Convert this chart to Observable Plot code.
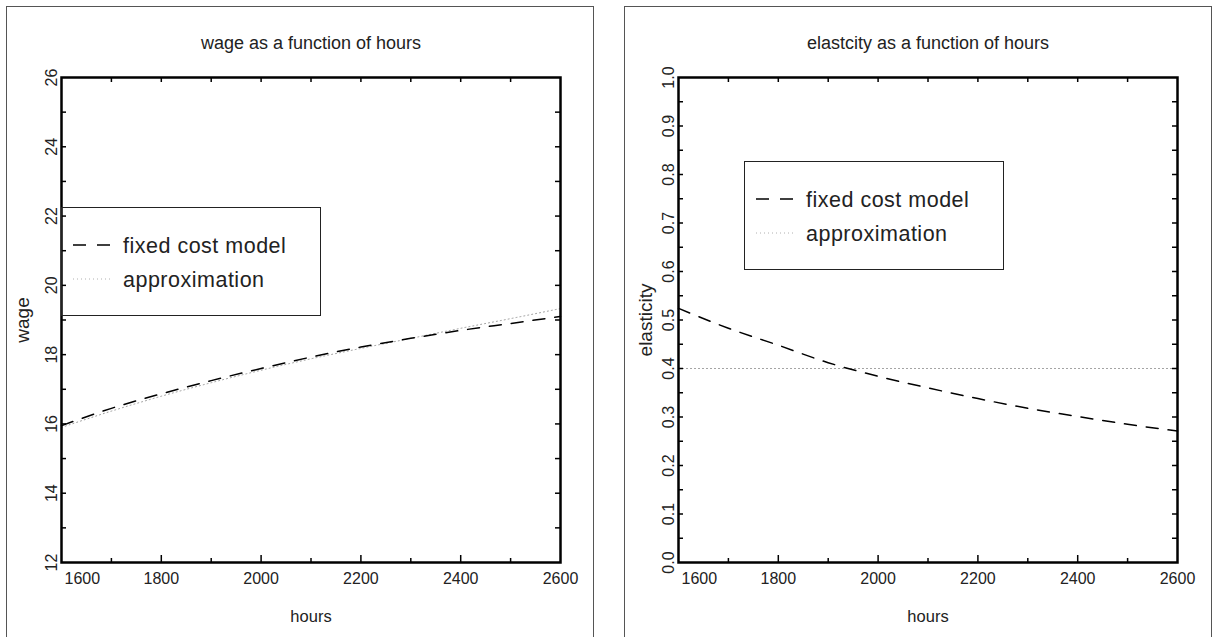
<!DOCTYPE html>
<html><head><meta charset="utf-8">
<script src="https://cdn.jsdelivr.net/npm/d3@7"></script>
<script src="https://cdn.jsdelivr.net/npm/@observablehq/plot@0.6"></script>
<style>
body{margin:0;background:#fff;width:1214px;height:637px;overflow:hidden;position:relative;font-family:"Liberation Sans",Arial,sans-serif}
.frame{position:absolute;border:1px solid #555;box-sizing:border-box}
.panel{position:absolute;top:0}
.legend{position:absolute;border:1px solid #222;box-sizing:border-box}
</style></head><body>
<script>
// ---- data ----
const hours = [1600,1700,1800,1900,2000,2100,2200,2300,2400,2500,2600];
const wageFixed  = [15.95,16.45,16.87,17.25,17.60,17.93,18.22,18.47,18.70,18.90,19.10];
const wageApprox = [15.90,16.37,16.80,17.19,17.55,17.88,18.18,18.47,18.76,19.04,19.33];
const elastFixed  = [0.524,0.483,0.448,0.412,0.384,0.360,0.338,0.318,0.301,0.285,0.271];
const elastApprox = [0.40,0.40,0.40,0.40,0.40,0.40,0.40,0.40,0.40,0.40,0.40];
const xMajorTicks = [1800,2000,2200,2400];
const xMinorTicks = [1700,1900,2100,2300,2500];
const xTickLabels = [1600,1800,2000,2200,2400,2600];
const wageTicks = [13,14,15,16,17,18,19,20,21,22,23,24,25];
const wageTickLabels = [12,14,16,18,20,22,24,26];
const elastTicks = [0.05,0.1,0.15,0.2,0.25,0.3,0.35,0.4,0.45,0.5,0.55,0.6,0.65,0.7,0.75,0.8,0.85,0.9,0.95];
const elastTickLabels = [0,0.1,0.2,0.3,0.4,0.5,0.6,0.7,0.8,0.9,1.0];
const seriesNames = ["fixed cost model","approximation"];
const titles = ["wage as a function of hours","elastcity as a function of hours"];
const yTitles = ["wage","elasticity"];
const xTitle = "hours";

const FONT = '"Liberation Sans", Arial, sans-serif';
const NARROW = '"Liberation Sans Narrow", "Arial Narrow", "Liberation Sans", Arial, sans-serif';
const H = 485, W = 499;

function panel({left, width, marginRight, yDomain, yTicks, yLabels, yFmt, fixed, approx, title, ylabel, ylabelDx}) {
  const rows = hours.map((h,i)=>({h, fixed: fixed[i], approx: approx[i]}));
  const svg = Plot.plot({
    width, height: 637, marginLeft: 61, marginRight, marginTop: 77, marginBottom: 75,
    x: {domain: [1600,2600], axis: null},
    y: {domain: yDomain, axis: null},
    style: {fontFamily: FONT, background: "transparent", color: "#222"},
    marks: [
      Plot.line(rows, {x: "h", y: "approx", stroke: "#9a9a9a", strokeWidth: 1, strokeDasharray: "1,3", curve: "monotone-x"}),
      Plot.line(rows, {x: "h", y: "fixed", stroke: "black", strokeWidth: 1.5, strokeDasharray: "12,10", curve: "monotone-x"}),
      // x ticks bottom (inside)
      Plot.tickX(xMajorTicks, {x: d=>d, insetTop: H-7, stroke: "black", strokeWidth: 1.5}),
      Plot.tickX(xMinorTicks, {x: d=>d, insetTop: H-4, stroke: "black", strokeWidth: 1.5}),
      // x ticks top (inside)
      Plot.tickX(xMajorTicks.concat(xMinorTicks), {x: d=>d, insetBottom: H-5, stroke: "black", strokeWidth: 1.5}),
      // y ticks left & right (inside)
      Plot.tickY(yTicks, {y: d=>d, insetRight: W-5, stroke: "black", strokeWidth: 1.5}),
      Plot.tickY(yTicks, {y: d=>d, insetLeft: W-5, stroke: "black", strokeWidth: 1.5}),
      Plot.frame({stroke: "black", strokeWidth: 2.5}),
      // x tick labels
      Plot.text(xTickLabels.slice(0,1), {x: d=>d, text: d=>String(d), frameAnchor: "bottom", textAnchor: "start", dx: 3, dy: 10, lineAnchor: "top", fontSize: 16, ariaLabel: "xlab"}),
      Plot.text(xTickLabels.slice(1), {x: d=>d, text: d=>String(d), frameAnchor: "bottom", textAnchor: "middle", dy: 10, lineAnchor: "top", fontSize: 16, ariaLabel: "xlab"}),
      // y tick labels (rotated)
      Plot.text(yLabels, {y: d=>d, text: yFmt, frameAnchor: "left", textAnchor: "middle", dx: -10, rotate: -90, lineAnchor: "middle", fontSize: 16, ariaLabel: "ylab"}),
      // titles
      Plot.text([title], {text: d=>d, frameAnchor: "top", textAnchor: "middle", dy: -34, lineAnchor: "middle", fontSize: 18, ariaLabel: "title"}),
      Plot.text([xTitle], {text: d=>d, frameAnchor: "bottom", textAnchor: "middle", dy: 54, lineAnchor: "middle", fontSize: 16.5, ariaLabel: "xtitle"}),
      Plot.text([ylabel], {text: d=>d, frameAnchor: "left", textAnchor: "middle", dx: ylabelDx, rotate: -90, lineAnchor: "middle", fontSize: 19, ariaLabel: "ytitle"})
    ]
  });
  d3.select(svg).selectAll('g[aria-label="xlab"] text').style("font-family", NARROW);
  d3.select(svg).selectAll('g[aria-label="ytitle"] text').style("letter-spacing", "1.5px");
  d3.select(svg).selectAll('g[aria-label="title"] text').style("letter-spacing", "0.3px");
  d3.select(svg).selectAll('g[aria-label="ylab"] text').style("letter-spacing", "1px");
  const div = document.createElement("div");
  div.className = "panel";
  div.style.left = left + "px";
  div.appendChild(svg);
  document.body.appendChild(div);
}

function frame(left, width) {
  const f = document.createElement("div");
  f.className = "frame";
  Object.assign(f.style, {left: left+"px", top: "6px", width: width+"px", height: "700px"});
  document.body.appendChild(f);
}

function legend(left, top) {
  const w = 260, h = 109;
  const div = document.createElement("div");
  div.className = "legend";
  Object.assign(div.style, {left: left+"px", top: top+"px", width: w+"px", height: h+"px"});
  const s = d3.create("svg").attr("width", w).attr("height", h).style("position","absolute").style("left","-1px").style("top","-1px");
  const styles = [{stroke: "black", dash: "13,11", width: 1.5}, {stroke: "#b0b0b0", dash: "1,3", width: 1}];
  seriesNames.forEach((name, i) => {
    const ly = 38 + i*34, by = 46 + i*34;
    s.append("line").attr("x1", 12).attr("x2", 49).attr("y1", ly).attr("y2", ly)
      .attr("stroke", styles[i].stroke).attr("stroke-width", styles[i].width).attr("stroke-dasharray", styles[i].dash);
    s.append("text").attr("x", 62).attr("y", by).text(name)
      .attr("font-family", FONT).attr("font-size", 21.5).attr("fill", "#222").style("letter-spacing", "0.5px");
  });
  div.appendChild(s.node());
  document.body.appendChild(div);
}

frame(6, 588);
frame(624, 588);

panel({left: 0, width: 607, marginRight: 47, yDomain: [12,26], yTicks: wageTicks, yLabels: wageTickLabels,
  yFmt: d=>String(d), fixed: wageFixed, approx: wageApprox, title: titles[0], ylabel: yTitles[0], ylabelDx: -39});
panel({left: 617, width: 597, marginRight: 37, yDomain: [0,1], yTicks: elastTicks, yLabels: elastTickLabels,
  yFmt: d=>d.toFixed(1), fixed: elastFixed, approx: elastApprox, title: titles[1], ylabel: yTitles[1], ylabelDx: -33});

legend(61, 207);
legend(744, 161);
</script>
</body></html>
